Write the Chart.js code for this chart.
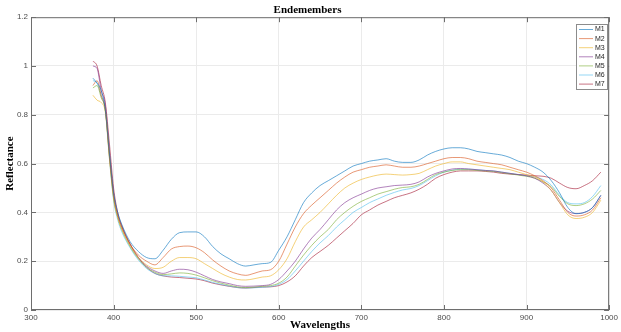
<!DOCTYPE html>
<html>
<head>
<meta charset="utf-8">
<script src="https://cdn.jsdelivr.net/npm/chart.js@4/dist/chart.umd.min.js"></script>
<style>
  html, body { margin: 0; padding: 0; background: #fff; }
  canvas { display: block; }
</style>
</head>
<body>
<canvas id="myChart" width="621" height="332"></canvas>
<script>
const wavelengths = [
  375, 380, 385, 390, 395, 400, 405, 410, 420, 430,
  440, 450, 460, 470, 480, 490, 500, 510, 520, 530,
  540, 550, 560, 570, 580, 590, 600, 610, 620, 630,
  640, 650, 660, 670, 680, 690, 700, 710, 720, 730,
  740, 750, 760, 770, 780, 790, 800, 810, 820, 830,
  840, 850, 860, 870, 880, 890, 900, 910, 920, 930,
  940, 950, 960, 970, 980, 990
];

const m1 = [
  0.95, 0.93, 0.9, 0.82, 0.64, 0.48, 0.4, 0.35, 0.28, 0.24,
  0.215, 0.21, 0.245, 0.29, 0.317, 0.32, 0.32, 0.3, 0.26, 0.23,
  0.21, 0.19, 0.18, 0.185, 0.19, 0.195, 0.245, 0.3, 0.37, 0.44,
  0.48, 0.51, 0.53, 0.55, 0.57, 0.59, 0.6, 0.61, 0.615, 0.62,
  0.61, 0.605, 0.605, 0.615, 0.635, 0.65, 0.66, 0.665, 0.665, 0.66,
  0.65, 0.645, 0.64, 0.635, 0.625, 0.61, 0.6, 0.585, 0.565, 0.53,
  0.48, 0.42, 0.395, 0.4, 0.42, 0.47
];
const m2 = [
  0.92, 0.94, 0.88, 0.82, 0.63, 0.47, 0.39, 0.34, 0.27, 0.225,
  0.2, 0.185, 0.215, 0.25, 0.26, 0.262, 0.255, 0.235, 0.205, 0.18,
  0.16, 0.148, 0.142, 0.15, 0.16, 0.165, 0.2, 0.27, 0.34, 0.395,
  0.43, 0.46, 0.49, 0.52, 0.545, 0.565, 0.575, 0.585, 0.59, 0.595,
  0.59, 0.585, 0.585, 0.59, 0.6, 0.61, 0.62, 0.625, 0.625, 0.62,
  0.61, 0.605, 0.6, 0.595, 0.585, 0.575, 0.565, 0.55, 0.53, 0.5,
  0.45, 0.4, 0.385, 0.39, 0.41, 0.46
];
const m3 = [
  0.88, 0.86, 0.85, 0.81, 0.62, 0.46, 0.38, 0.33, 0.265, 0.215,
  0.185, 0.17, 0.175, 0.2, 0.215, 0.215, 0.21, 0.19, 0.17, 0.15,
  0.135, 0.125, 0.123, 0.128, 0.135, 0.14, 0.165, 0.21, 0.28, 0.34,
  0.37, 0.4, 0.435, 0.47, 0.5, 0.52, 0.535, 0.545, 0.553, 0.557,
  0.555, 0.553, 0.555, 0.56, 0.575, 0.59, 0.6, 0.607, 0.607, 0.6,
  0.595, 0.59, 0.585, 0.58, 0.575, 0.565, 0.555, 0.545, 0.525, 0.49,
  0.44, 0.39, 0.375, 0.38, 0.4, 0.45
];
const m4 = [
  1.0, 0.99, 0.9, 0.84, 0.65, 0.48, 0.39, 0.34, 0.27, 0.215,
  0.18, 0.16, 0.15, 0.16, 0.167, 0.165, 0.155, 0.14, 0.125, 0.115,
  0.108, 0.1, 0.097, 0.098, 0.1, 0.105, 0.125, 0.16, 0.2, 0.25,
  0.295, 0.33, 0.37, 0.41, 0.44, 0.46, 0.475, 0.49, 0.5, 0.505,
  0.51, 0.512, 0.515, 0.525, 0.545, 0.56, 0.57, 0.578, 0.58, 0.578,
  0.575, 0.572, 0.57, 0.565, 0.56, 0.555, 0.55, 0.54, 0.52, 0.49,
  0.44, 0.405, 0.395, 0.4, 0.42, 0.47
];
const m5 = [
  0.91, 0.92, 0.87, 0.82, 0.63, 0.46, 0.38, 0.33, 0.26, 0.21,
  0.175, 0.155, 0.145, 0.148, 0.152, 0.15, 0.143, 0.132, 0.12, 0.11,
  0.102, 0.095, 0.092, 0.094, 0.097, 0.1, 0.11, 0.135, 0.18, 0.225,
  0.265, 0.3, 0.33, 0.37, 0.4, 0.425, 0.445, 0.46, 0.475, 0.485,
  0.495, 0.502, 0.505, 0.515, 0.535, 0.555, 0.565, 0.572, 0.575, 0.575,
  0.572, 0.57, 0.568, 0.563, 0.558, 0.553, 0.548, 0.54, 0.525, 0.505,
  0.465, 0.435, 0.428, 0.435, 0.455, 0.49
];
const m6 = [
  0.94, 0.93, 0.88, 0.82, 0.62, 0.45, 0.37, 0.32, 0.255, 0.205,
  0.17, 0.15, 0.14, 0.14, 0.138, 0.135, 0.132, 0.123, 0.113, 0.105,
  0.098, 0.092, 0.09, 0.091, 0.093, 0.096, 0.105, 0.125, 0.16, 0.2,
  0.24, 0.275, 0.305, 0.34, 0.37, 0.4, 0.42, 0.44, 0.455, 0.47,
  0.482, 0.492, 0.498, 0.51, 0.53, 0.55, 0.565, 0.573, 0.577, 0.577,
  0.575, 0.572, 0.57, 0.565, 0.56, 0.555, 0.55, 0.545, 0.535, 0.512,
  0.47, 0.44, 0.435, 0.44, 0.465, 0.51
];
const m7 = [
  1.02, 1.0, 0.92, 0.85, 0.68, 0.5, 0.4, 0.345, 0.27, 0.215,
  0.175, 0.15, 0.14, 0.135, 0.133, 0.13, 0.127, 0.12, 0.11, 0.103,
  0.097, 0.092, 0.09, 0.092, 0.094, 0.095, 0.1, 0.115, 0.14, 0.18,
  0.215, 0.24, 0.265, 0.295, 0.325, 0.355, 0.39, 0.41, 0.43, 0.445,
  0.46, 0.47, 0.48, 0.495, 0.515, 0.54, 0.555, 0.565, 0.57, 0.57,
  0.57, 0.568, 0.565, 0.56, 0.557, 0.555, 0.553, 0.55, 0.548, 0.54,
  0.52, 0.502, 0.497, 0.51, 0.53, 0.565
];

const seriesNames = ['M1', 'M2', 'M3', 'M4', 'M5', 'M6', 'M7'];
const seriesValues = [m1, m2, m3, m4, m5, m6, m7];
const seriesColors = [
    'rgba(0, 114, 189, 0.75)',
    'rgba(217, 83, 25, 0.75)',
    'rgba(237, 177, 32, 0.75)',
    'rgba(126, 47, 142, 0.75)',
    'rgba(119, 172, 48, 0.75)',
    'rgba(77, 190, 238, 0.75)',
    'rgba(162, 20, 47, 0.75)'
];

const xTicks = [300, 400, 500, 600, 700, 800, 900, 1000];
const yTicks = [0, 0.2, 0.4, 0.6, 0.8, 1, 1.2];

const datasets = seriesNames.map((name, i) => ({
    label: name,
    data: wavelengths.map((w, j) => ({ x: w, y: seriesValues[i][j] })),
    borderColor: seriesColors[i],
    borderWidth: 0.8,
    pointRadius: 0,
    fill: false,
    cubicInterpolationMode: 'monotone'
}));

// box round the axes with small inner ticks, like matlab
const boxPlugin = {
    id: 'boxPlugin',
    afterDraw(chart) {
        const ctx = chart.ctx;
        const a = chart.chartArea;
        const xs = chart.scales.x;
        const ys = chart.scales.y;
        ctx.save();
        ctx.strokeStyle = '#6e6e6e';
        ctx.lineWidth = 1;
        ctx.strokeRect(a.left + 0.5, a.top + 0.5, a.right - a.left - 1, a.bottom - a.top - 1);
        ctx.beginPath();
        xTicks.forEach(t => {
            const px = Math.round(xs.getPixelForValue(t)) + 0.5;
            ctx.moveTo(px, a.bottom);
            ctx.lineTo(px, a.bottom - 5);
            ctx.moveTo(px, a.top);
            ctx.lineTo(px, a.top + 5);
        });
        yTicks.forEach(t => {
            const py = Math.round(ys.getPixelForValue(t)) + 0.5;
            ctx.moveTo(a.left, py);
            ctx.lineTo(a.left + 5, py);
            ctx.moveTo(a.right, py);
            ctx.lineTo(a.right - 5, py);
        });
        ctx.stroke();

        // legend
        const lx = 576, ly = 24, lw = 31, lh = 65;
        ctx.fillStyle = '#fff';
        ctx.fillRect(lx, ly, lw, lh);
        ctx.strokeStyle = '#8c8c8c';
        ctx.strokeRect(lx + 0.5, ly + 0.5, lw, lh);
        ctx.font = '7px "Liberation Sans"';
        ctx.textBaseline = 'middle';
        ctx.textAlign = 'left';
        seriesNames.forEach((name, i) => {
            const y = ly + 5.5 + i * 9.1;
            ctx.strokeStyle = seriesColors[i];
            ctx.lineWidth = 0.8;
            ctx.beginPath();
            ctx.moveTo(lx + 3, y);
            ctx.lineTo(lx + 17, y);
            ctx.stroke();
            ctx.fillStyle = '#262626';
            ctx.fillText(name, lx + 19, y);
        });
        ctx.restore();
    }
};

const titleFont = { family: '"Liberation Serif", "DejaVu Serif", serif', weight: 'bold', size: 11 };
const tickFont = { family: '"Liberation Sans", Arial, sans-serif', size: 8 };

const ctx = document.getElementById('myChart').getContext('2d');
new Chart(ctx, {
    type: 'line',
    data: { datasets: datasets },
    options: {
        responsive: false,
        devicePixelRatio: 1,
        animation: false,
        layout: { padding: { left: 0, right: 6, top: 0, bottom: 0 } },
        plugins: {
            legend: { display: false },
            tooltip: { enabled: false },
            title: {
                display: true,
                text: 'Endemembers',
                color: '#000',
                font: titleFont,
                padding: { top: 4, bottom: 0 }
            }
        },
        scales: {
            x: {
                type: 'linear',
                min: 300,
                max: 1000,
                afterBuildTicks: s => { s.ticks = xTicks.map(v => ({ value: v })); },
                afterFit: s => { s.height = 22; },
                ticks: {
                    font: tickFont,
                    color: '#4d4d4d',
                    padding: 3,
                    maxRotation: 0,
                    callback: v => String(v)
                },
                grid: { color: '#ebebeb', drawTicks: false },
                border: { display: false },
                title: {
                    display: true,
                    text: 'Wavelengths',
                    color: '#000',
                    font: titleFont,
                    padding: { top: 0, bottom: 0 }
                }
            },
            y: {
                min: 0,
                max: 1.2,
                afterBuildTicks: s => { s.ticks = yTicks.map(v => ({ value: v })); },
                afterFit: s => { s.width = 31; },
                ticks: {
                    font: tickFont,
                    color: '#4d4d4d',
                    padding: 3,
                    callback: v => String(Number(v.toFixed(1)))
                },
                grid: { color: '#ebebeb', drawTicks: false },
                border: { display: false },
                title: {
                    display: true,
                    text: 'Reflectance',
                    color: '#000',
                    font: titleFont,
                    padding: { top: 4, bottom: 0 }
                }
            }
        }
    },
    plugins: [boxPlugin]
});
</script>
</body>
</html>
